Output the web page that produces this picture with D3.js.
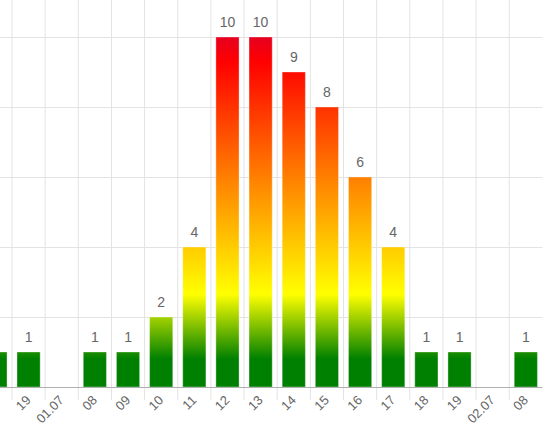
<!DOCTYPE html>
<html>
<head>
<meta charset="utf-8">
<script src="https://cdn.jsdelivr.net/npm/d3@7"></script>
<style>
  html, body { margin: 0; padding: 0; background: #fff; }
  svg { display: block; font-family: "Liberation Sans", Arial, sans-serif; }
</style>
</head>
<body>
<div id="chart"></div>
<script>
// hourly counts, the view is scrolled so the first bar is cut off on the left
const categories = ["18", "19", "01.07", "08", "09", "10", "11", "12", "13", "14", "15", "16", "17", "18", "19", "02.07", "08"];
const values = [1, 1, 0, 1, 1, 2, 4, 10, 10, 9, 8, 6, 4, 1, 1, 0, 1];
const yTicks = [0, 2, 4, 6, 8, 10];

const width = 557, height = 439;
const step = 33.15;
const plotLeft = 12 - step; // first band sits partly off-screen
const plotRight = plotLeft + step * categories.length;
const plotTop = 37, plotBottom = 387;

let svg = d3.select("#chart").append("svg")
  .attr("width", width)
  .attr("height", height);

let x = d3.scaleBand()
  .domain(d3.range(categories.length))
  .range([plotLeft, plotRight]);

let xBar = x.copy().paddingInner(0.3).paddingOuter(0.15);

let y = d3.scaleLinear()
  .domain([0, 10])
  .range([plotBottom, plotTop]);

let center = (i) => x(i) + x.bandwidth() / 2;

// colour runs over the whole value range, not per bar
let grad = svg.append("defs").append("linearGradient")
  .attr("id", "heat")
  .attr("gradientUnits", "userSpaceOnUse")
  .attr("x1", 0).attr("x2", 0)
  .attr("y1", y(0)).attr("y2", y(10));

[[0, "#008000"], [0.08, "#008000"], [0.265, "#ffff00"], [0.5, "#ffa500"],
 [0.75, "#ff4500"], [0.93, "#ff0000"], [1, "#e6001f"]].forEach(s => {
  grad.append("stop").attr("offset", s[0]).attr("stop-color", s[1]);
});

// horizontal grid
svg.append("g")
  .selectAll("line")
  .data(yTicks.filter(d => d > 0))
  .enter().append("line")
  .attr("x1", plotLeft).attr("x2", plotRight)
  .attr("y1", d => y(d) + 0.5).attr("y2", d => y(d) + 0.5)
  .attr("stroke", "#e3e3e3");

// vertical grid at band boundaries, running down past the axis as ticks
svg.append("g")
  .selectAll("line")
  .data(d3.range(1, categories.length))
  .enter().append("line")
  .attr("x1", d => x(d)).attr("x2", d => x(d))
  .attr("y1", 0).attr("y2", plotBottom + 13)
  .attr("stroke", "#e3e3e3");

svg.append("g")
  .selectAll("rect")
  .data(values)
  .enter().append("rect")
  .attr("x", (d, i) => xBar(i))
  .attr("width", xBar.bandwidth())
  .attr("y", d => y(d))
  .attr("height", d => y(0) - y(d))
  .attr("fill", "url(#heat)")
  .attr("stroke", "#fff")
  .attr("stroke-opacity", 0.35)
  .attr("stroke-width", 1);

// baseline
svg.append("line")
  .attr("x1", plotLeft).attr("x2", plotRight)
  .attr("y1", y(0) + 0.5).attr("y2", y(0) + 0.5)
  .attr("stroke", "#b0b0b0");

// only label what is scrolled into view
let visible = d3.range(categories.length).filter(i => center(i) > 0);

// value labels
svg.append("g")
  .selectAll("text")
  .data(visible.filter(i => values[i] > 0))
  .enter().append("text")
  .attr("x", i => center(i))
  .attr("y", i => y(values[i]) - 10)
  .attr("text-anchor", "middle")
  .attr("font-size", "14px")
  .attr("fill", "#666")
  .text(i => values[i]);

// category labels, rotated
svg.append("g")
  .selectAll("text")
  .data(visible)
  .enter().append("text")
  .attr("transform", i => `translate(${center(i) + 3},${plotBottom + 14}) rotate(-45)`)
  .attr("text-anchor", "end")
  .attr("font-size", "13px")
  .attr("fill", "#666")
  .text(i => categories[i]);
</script>
</body>
</html>
